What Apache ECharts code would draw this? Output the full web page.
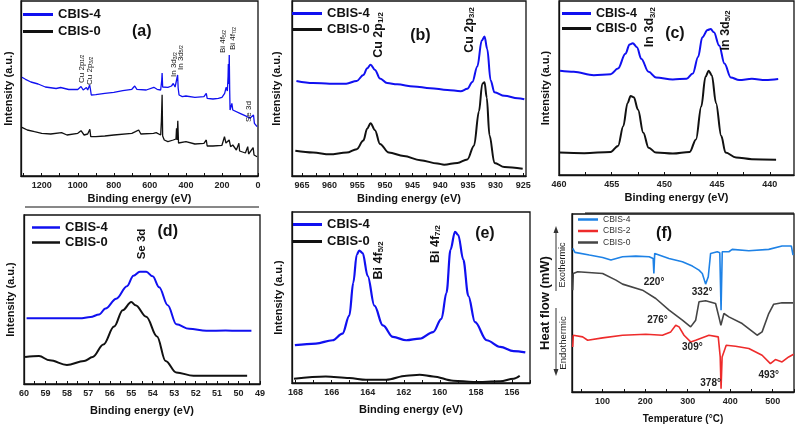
<!DOCTYPE html>
<html><head><meta charset="utf-8">
<script src="https://cdn.jsdelivr.net/npm/echarts@6/dist/echarts.min.js"></script>
<style>html,body{margin:0;padding:0;background:#fff}#c{width:799px;height:427px}</style>
</head><body><div id="c"></div>
<script>
// ---------- DATA ----------
// (a) survey spectrum: [binding energy eV, intensity a.u.]
const aBlue = [[1310,98.7],[1290,96.7],[1260,94],[1220,92],[1180,89],[1120,87.5],[1095,88.5],[1085,86.5],[1050,86.5],[1000,86.5],[982,89.5],[970,86],[952,88.5],[945,86],[934,91],[930,87],[925,81],[900,81.3],[850,82.7],[800,83.7],[750,85.3],[700,86.7],[684,90],[672,86.7],[620,86],[578,88.7],[560,86.7],[540,86],[534,96],[532,103],[529,89],[500,88.7],[480,90],[470,92.5],[460,89],[452,90],[446,101],[443,88],[438,81],[420,79.3],[400,80],[350,78.7],[300,79.3],[287,82.7],[282,77.7],[250,77],[220,77.7],[200,78.7],[185,82.7],[177,88.7],[170,85],[166,100],[164.5,112],[162,92],[159.5,121],[157,85],[155,66],[150,68],[145,72.7],[140,66],[130,64.3],[100,62.7],[60,59.3],[55,61],[45,57.7],[25,61],[20,52.7],[5,49.3]];
const aBlack = [[1310,48.7],[1280,46],[1240,44.3],[1200,42.7],[1150,42],[1090,43.3],[1060,41],[1000,42.7],[982,45.3],[965,41],[945,42],[933,46.7],[928,39.3],[900,39.3],[850,40],[800,41],[700,42.7],[680,44.3],[662,46],[650,42],[580,42.7],[565,43.3],[540,41],[536,55],[532,81.3],[529,40],[520,36],[500,34.3],[470,36],[455,37],[452,47.7],[449,36],[445,55.3],[441,33],[400,34.3],[350,32],[300,32.7],[287,36],[282,30],[250,30],[200,30.7],[186,39.3],[178,33],[168,32.7],[160,36],[152,29.3],[140,31],[120,26],[106,32.7],[102,25],[70,23],[57,29.3],[52,22],[27,28.3],[22,21],[5,19.3]];
// (b) Cu 2p
const bBlue = [[966,276],[963,270],[960,268],[957,268],[955.1,276],[953.9,293],[953.2,313],[952.6,323],[951.8,308],[950.9,283],[949.6,270],[947.8,266],[944.8,260],[941.8,255],[938.7,250],[936.3,246],[935.1,253],[934.2,273],[933.3,318],[932.5,393],[932.0,405],[931.5,368],[930.9,278],[930.2,243],[928.4,233],[926.0,226],[924.8,223]];
const bBlack = [[966.2,73],[963,68],[960,63],[956.9,68],[955.1,78],[953.9,103],[953.2,138],[952.6,153],[951.8,133],[950.9,93],[949.3,68],[946.6,58],[943.6,46],[940.5,36],[939.3,33],[936.9,38],[935.1,48],[933.9,88],[933.0,188],[932.4,268],[932.0,272],[931.6,228],[931.1,118],[930.2,38],[928.4,26],[925.1,21]];
// (c) In 3d
const cBlue = [[459.9,316],[458.6,313],[456.7,303],[455.1,306],[454.4,323],[453.7,368],[453.3,396],[453.0,400],[452.6,388],[452.2,353],[451.5,313],[450.8,296],[449.2,290],[447.9,292],[447.3,308],[446.8,358],[446.4,418],[445.9,440],[445.6,443],[445.3,433],[444.8,393],[444.3,338],[443.7,296],[442.9,288],[441.7,292],[440.4,288],[439.2,291]];
const cBlack = [[460,68],[457.6,66],[455.1,70],[454.4,88],[453.9,148],[453.5,218],[453.2,240],[452.9,236],[452.5,198],[452.0,128],[451.5,83],[450.8,68],[449.2,65],[447.6,70],[447.0,108],[446.5,208],[446.1,298],[445.8,316],[445.5,303],[445.1,218],[444.6,118],[444.2,68],[443.2,53],[441.7,48],[439.4,46]];
// (d) Se 3d
const dBlue = [[59.88,200],[58.8,200],[57.4,200],[56.9,204],[56.5,212],[56.2,230],[55.7,260],[55.2,298],[54.9,330],[54.6,342],[54.3,342],[54.0,328],[53.7,295],[53.3,240],[52.9,182],[52.3,168],[51.5,162],[50.6,163],[50.0,162],[49.4,162]];
const dBlack = [[59.95,82],[59.3,85],[58.8,72],[58.0,58],[57.2,70],[56.8,82],[56.3,120],[55.8,175],[55.4,225],[55.0,250],[54.8,240],[54.3,205],[53.8,145],[53.4,70],[52.9,35],[52.1,25],[51.0,25],[49.6,25]];
// (e) Bi 4f
const eBlue = [[168.04,115],[166.88,120],[165.95,130],[165.4,150],[165.02,205],[164.8,305],[164.61,390],[164.47,403],[164.28,395],[164.0,325],[163.63,235],[163.16,175],[162.6,140],[161.86,130],[161.12,135],[160.37,155],[159.91,195],[159.63,275],[159.41,405],[159.16,460],[158.98,450],[158.7,375],[158.42,265],[158.05,185],[157.4,130],[156.65,110],[155.91,97],[155.26,93]];
const eBlack = [[168.09,13],[166.33,20],[165.02,15],[164.1,10],[162.98,10],[161.86,22],[161.12,25],[160.37,20],[159.26,7],[158.14,3],[156.65,5],[155.91,13],[155.57,22]];
// (f) DSC: [temperature °C, heat flow a.u.]
const fBlue = [[29.7,430],[35,418],[68.8,410],[100,403],[119.5,395],[146.9,405],[178,407],[209.4,405],[218.8,400],[220.5,355],[222.5,415],[226.6,410],[256,400],[287.5,390],[311,377],[326.6,365],[334.4,355],[342.2,323],[348.4,345],[353.9,415],[369.5,420],[375.5,417],[378.5,245],[381.3,420],[396.9,420],[404.7,427],[443.8,423],[490.6,427],[521.9,437],[543.8,437],[547.7,410]];
const fRed = [[29.7,135],[31,170],[53.1,165],[64.8,155],[100,162],[146.9,170],[201.6,173],[240.6,170],[260.2,180],[271.9,200],[276,203],[279.7,195],[291.4,170],[307,150],[318.8,155],[350,170],[371.9,165],[376.5,105],[378.5,10],[381,105],[390.6,140],[412.5,137],[443.8,130],[475,110],[494.5,85],[506.3,97],[521.9,90],[537.5,105],[549.2,113]];
const fGray = [[29.7,305],[31,355],[35,360],[41.4,360],[100,355],[131.3,335],[146.9,323],[193.8,305],[225,280],[256.3,245],[287.5,215],[307,195],[318.8,215],[326.6,270],[342.2,273],[365.6,265],[373.4,225],[378.1,200],[385.2,235],[396.9,225],[428.1,205],[463.3,170],[475,180],[490.6,235],[502.3,263],[521.9,267],[547.7,267]];

// tick labels
const aLabels = [0,200,400,600,800,1000,1200];
const aTicks = [0,100,200,300,400,500,600,700,800,900,1000,1100,1200,1300];
const bLabels = [925,930,935,940,945,950,955,960,965];
const bTicks = [925,927.5,930,932.5,935,937.5,940,942.5,945,947.5,950,952.5,955,957.5,960,962.5,965];
const cLabels = [440,445,450,455,460];
const cTicks = [440,442.5,445,447.5,450,452.5,455,457.5,460];
const dLabels = [49,50,51,52,53,54,55,56,57,58,59,60];
const dTicks = [49,49.5,50,50.5,51,51.5,52,52.5,53,53.5,54,54.5,55,55.5,56,56.5,57,57.5,58,58.5,59,59.5,60];
const eLabels = [156,158,160,162,164,166,168];
const eTicks = [155,156,157,158,159,160,161,162,163,164,165,166,167,168];
const fLabels = [100,200,300,400,500];
const fTicks = [50,100,150,200,250,300,350,400,450,500,550];

// annotations (data coordinates)
const notesA = [['Cu 2p','1/2',982,93],['Cu 2p','3/2',936,91],['In 3d','3/2',470,99],['In 3d','5/2',433,106],['Bi 4f','5/2',196,123],['Bi 4f','7/2',141,126],['Se 3d','',54,54]];
const notesB = [['Cu 2p','1/2',951.2,343],['Cu 2p','3/2',934.8,358]];
const notesC = [['In 3d','3/2',451.4,388],['In 3d','5/2',444.2,378]];
const notesD = [['Se 3d','',54.5,380]];
const notesE = [['Bi 4f','5/2',163.44,315],['Bi 4f','7/2',160.28,365]];
const notesF = [['220°',221,330],['332°',334,300],['276°',229,215],['309°',311,135],['378°',354,25],['493°',490.6,50]];
const panelTags = [['(a)',645,144],['(b)',943.6,408],['(c)',449,428],['(d)',53.3,465],['(e)',157.5,455],['(f)',244.5,475]];

// ---------- CHART ----------
const FONT = '"Liberation Sans", Arial, sans-serif';
const chart = echarts.init(document.getElementById('c'), null, {renderer:'canvas'});
const grids = [
  {left:21, top:1, width:237, height:175},
  {left:292, top:1, width:234, height:175},
  {left:559, top:1, width:235, height:174},
  {left:24, top:215, width:236, height:169},
  {left:292, top:212, width:238, height:171},
  {left:572, top:214, width:222, height:178}
].map(g => Object.assign({show:true, borderColor:'#111', borderWidth:1.3, backgroundColor:'#fff'}, g));

function xa(i, min, max, labels, ticks, name, gap, fs){
  return {gridIndex:i, type:'value', min, max, inverse: i<5, name, nameLocation:'middle', nameGap:gap,
    nameTextStyle:{fontFamily:FONT, fontWeight:'bold', fontSize:fs, color:'#111'},
    axisLine:{show:true, onZero:false, lineStyle:{color:'#111', width:1.3}},
    axisTick:{show:true, inside:true, length:3, customValues:ticks, lineStyle:{color:'#111'}},
    axisLabel:{customValues:labels, margin:5, fontFamily:FONT, fontWeight:'bold', fontSize:9, color:'#222', hideOverlap:false, showMinLabel:true, showMaxLabel:true,
      formatter: v => String(v)},
    splitLine:{show:false}};
}
function ya(i, max, name, gap, fs){
  return {gridIndex:i, type:'value', min:0, max, name, nameLocation:'middle', nameGap:gap, nameRotate:90,
    nameTextStyle:{fontFamily:FONT, fontWeight:'bold', fontSize:fs, color:'#111'},
    axisLine:{show:true, onZero:false, lineStyle:{color:'#111', width:1.3}},
    axisTick:{show:false}, axisLabel:{show:false}, splitLine:{show:false}};
}
function ln(i, name, data, color, w, smooth){
  const s = {type:'line', name, xAxisIndex:i, yAxisIndex:i, data, showSymbol:false, symbol:'none',
    lineStyle:{color, width:w}, itemStyle:{color}, silent:true, animation:false};
  if (smooth) { s.smooth = 0.35; s.smoothMonotone = 'x'; }
  return s;
}
function lg(left, top, items, fs, w, gap, weight, tcolor, h){
  return {left, top, orient:'vertical', icon:'rect', itemWidth:w, itemHeight:h, itemGap:gap, selectedMode:false, padding:0,
    textStyle:{fontFamily:FONT, fontSize:fs, fontWeight:weight, color:tcolor},
    data: items.map(([n,c]) => ({name:n, itemStyle:{color:c}}))};
}
const BLUE = '#1010f0', BLACK = '#111';
const XT = 'Binding energy (eV)', YT = 'Intensity (a.u.)';

chart.setOption({
  animation:false,
  backgroundColor:'#fff',
  grid: grids,
  xAxis: [
    xa(0, 0, 1315, aLabels, aTicks, XT, 17, 11),
    xa(1, 924.5, 966.8, bLabels, bTicks, XT, 17, 11),
    xa(2, 437.7, 460, cLabels, cTicks, XT, 17, 11),
    xa(3, 49, 60, dLabels, dTicks, XT, 21, 11),
    xa(4, 155, 168.2, eLabels, eTicks, XT, 21, 11),
    xa(5, 28, 550, fLabels, fTicks, 'Temperature (°C)', 22, 10)
  ],
  yAxis: [
    ya(0, 175, YT, 7, 11),
    ya(1, 508, YT, 10, 11),
    ya(2, 528, YT, 8, 11),
    ya(3, 515, YT, 8, 11),
    ya(4, 520, YT, 8, 11),
    ya(5, 533, 'Heat flow (mW)', 20, 13)
  ],
  legend: [
    lg(23, 8, [['CBIS-4',BLUE],['CBIS-0',BLACK]], 13, 30, 4, 'bold', '#111', 3),
    lg(292, 7, [['CBIS-4',BLUE],['CBIS-0',BLACK]], 13, 30, 3, 'bold', '#111', 3),
    lg(562, 7, [['CBIS-4',BLUE],['CBIS-0',BLACK]], 12.5, 29, 2, 'bold', '#111', 3),
    lg(32, 221, [['CBIS-4',BLUE],['CBIS-0',BLACK]], 13, 28, 2, 'bold', '#111', 2.5),
    lg(293, 218, [['CBIS-4',BLUE],['CBIS-0',BLACK]], 13, 29, 4, 'bold', '#111', 3),
    lg(578, 215, [['CBIS-4','#1e82e6'],['CBIS-2','#ee2b2b'],['CBIS-0','#454545']], 8.5, 20, 2.5, 'normal', '#333', 2.5)
  ],
  series: [
    ln(0,'CBIS-4',aBlue,BLUE,1.3,false), ln(0,'CBIS-0',aBlack,BLACK,1.3,false),
    ln(1,'CBIS-4',bBlue,BLUE,2,true), ln(1,'CBIS-0',bBlack,BLACK,2,true),
    ln(2,'CBIS-4',cBlue,BLUE,2,true), ln(2,'CBIS-0',cBlack,BLACK,2,true),
    ln(3,'CBIS-4',dBlue,BLUE,2,true), ln(3,'CBIS-0',dBlack,BLACK,2,true),
    ln(4,'CBIS-4',eBlue,BLUE,2.2,true), ln(4,'CBIS-0',eBlack,BLACK,2,true),
    ln(5,'CBIS-4',fBlue,'#1e82e6',1.6,false), ln(5,'CBIS-2',fRed,'#ee2b2b',1.6,false), ln(5,'CBIS-0',fGray,'#454545',1.6,false)
  ]
});

// ---------- ANNOTATIONS ----------
function px(i, x, y){ return chart.convertToPixel({xAxisIndex:i, yAxisIndex:i}, [x, y]); }
function vnote(i, main, sub, x, y, fs, weight){
  const p = px(i, x, y);
  const text = sub ? '{m|' + main + '}{s|' + sub + '}' : '{m|' + main + '}';
  return {type:'text', x:p[0], y:p[1], rotation:Math.PI/2, z:10, silent:true,
    style:{text, align:'left', verticalAlign:'middle', fill:'#111',
      rich:{m:{fontSize:fs, fontWeight:weight, fontFamily:FONT, fill:'#111', lineHeight:fs+1, verticalAlign:'bottom'},
            s:{fontSize:Math.round(fs*0.62*10)/10, fontWeight:weight, fontFamily:FONT, fill:'#111', verticalAlign:'bottom'}}}};
}
function hnote(i, text, x, y, fs, weight, color){
  const p = px(i, x, y);
  return {type:'text', x:p[0], y:p[1], z:10, silent:true,
    style:{text, align:'center', verticalAlign:'middle', fill:color, fontSize:fs, fontWeight:weight, fontFamily:FONT}};
}
const els = [];
notesA.forEach(n => els.push(vnote(0, n[0], n[1], n[2], n[3], 8, 'normal')));
notesB.forEach(n => els.push(vnote(1, n[0], n[1], n[2], n[3], 12.5, 'bold')));
notesC.forEach(n => els.push(vnote(2, n[0], n[1], n[2], n[3], 12.5, 'bold')));
notesD.forEach(n => els.push(vnote(3, n[0], n[1], n[2], n[3], 11.5, 'bold')));
notesE.forEach(n => els.push(vnote(4, n[0], n[1], n[2], n[3], 12.5, 'bold')));
notesF.forEach(n => els.push(hnote(5, n[0], n[1], n[2], 10, 'bold', '#222')));
panelTags.forEach((t, i) => els.push(hnote(i, t[0], t[1], t[2], 16, 'bold', '#111')));

// DSC side labels and arrows
els.push({type:'text', x:563, y:265, rotation:Math.PI/2, z:10, silent:true,
  style:{text:'Exothermic', align:'center', verticalAlign:'middle', fill:'#222', fontSize:9, fontFamily:FONT}});
els.push({type:'text', x:563, y:343, rotation:Math.PI/2, z:10, silent:true,
  style:{text:'Endothermic', align:'center', verticalAlign:'middle', fill:'#222', fontSize:9.5, fontFamily:FONT}});
els.push({type:'line', z:10, silent:true, shape:{x1:556, y1:291, x2:556, y2:231}, style:{stroke:'#333', lineWidth:1}});
els.push({type:'polygon', z:10, silent:true, shape:{points:[[553.5,233],[558.5,233],[556,226]]}, style:{fill:'#333'}});
els.push({type:'line', z:10, silent:true, shape:{x1:556, y1:308, x2:556, y2:371}, style:{stroke:'#333', lineWidth:1}});
els.push({type:'polygon', z:10, silent:true, shape:{points:[[553.5,369],[558.5,369],[556,376]]}, style:{fill:'#333'}});
// separator rules under the top-row panels
els.push({type:'line', z:10, silent:true, shape:{x1:25, y1:207, x2:259, y2:207}, style:{stroke:'#111', lineWidth:1}});
els.push({type:'line', z:10, silent:true, shape:{x1:585, y1:213, x2:794, y2:213}, style:{stroke:'#111', lineWidth:1}});

chart.setOption({graphic:{elements:els}});
</script>
</body></html>
